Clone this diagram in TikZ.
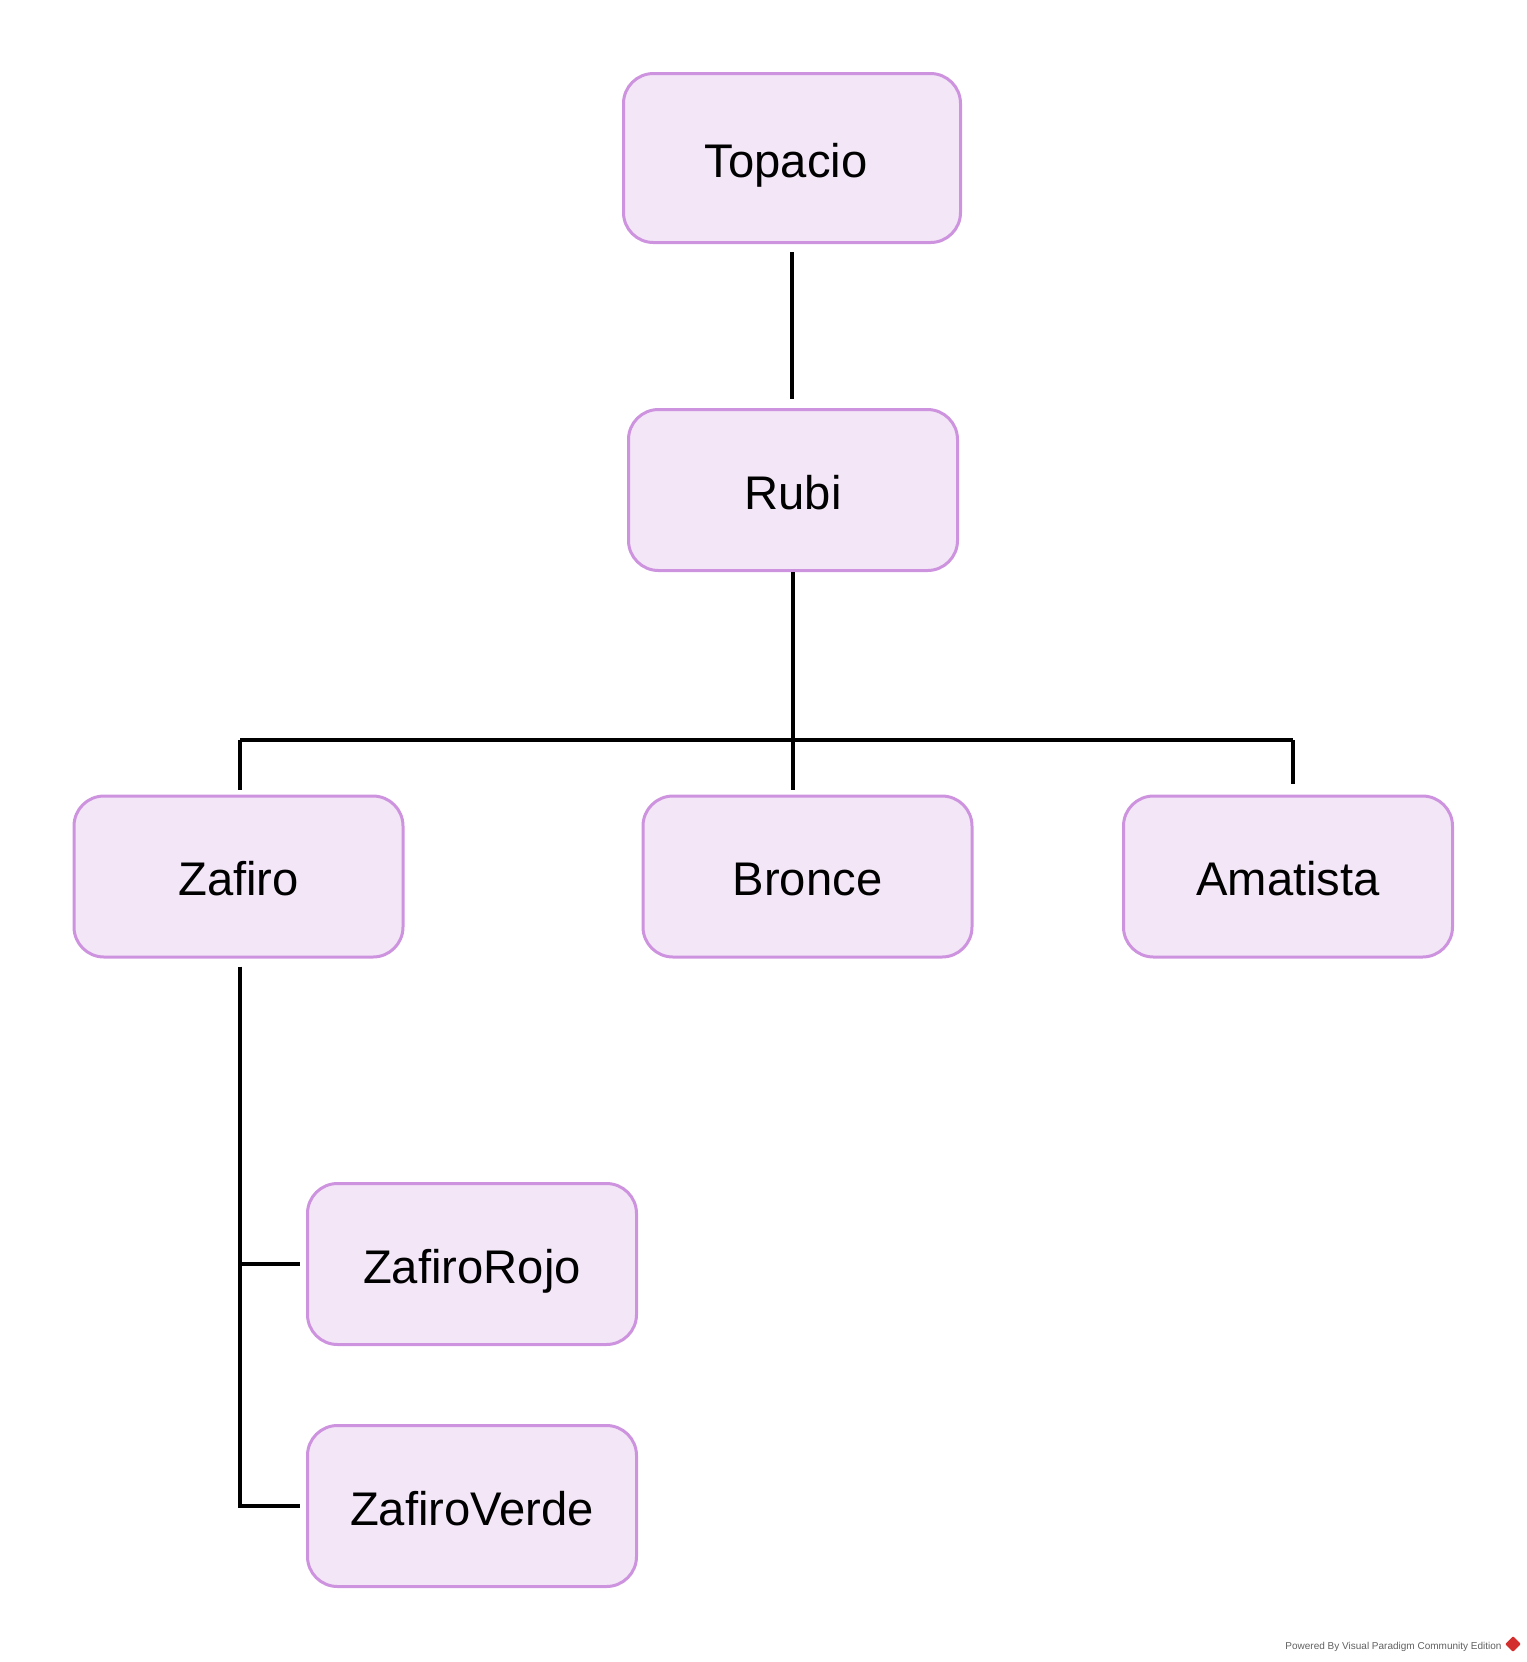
\documentclass[tikz,border=0pt]{standalone}
\usepackage{fontspec}
\setmainfont{Liberation Sans}
\definecolor{gemline}{HTML}{CE93DF}
\definecolor{gemfill}{HTML}{F3E6F7}
\definecolor{creditgray}{HTML}{606060}
\definecolor{vpred}{HTML}{D32F2F}
\begin{document}
\begin{tikzpicture}
  [x=0.5pt,y=-0.5pt,
   every node/.style={draw=gemline,fill=gemfill,line width=1.5pt,rounded corners=15pt,
     minimum width=164.5pt,minimum height=80.5pt,inner sep=0pt,text height=19pt,text depth=0pt,
     font=\fontsize{23.6}{28}\selectfont},
   conn/.style={line width=1.75pt,black}]
  \useasboundingbox (0,0) rectangle (1527,1662);
  \node (topacio) at (792,158) [minimum width=168.5pt,minimum height=84.5pt] {Topacio\kern6pt\null};
  \node (rubi) at (793,490) {Rubi};
  \node (zafiro) at (238.5,876.5) {Zafiro};
  \node (bronce) at (807.5,876.5) {Bronce};
  \node (amatista) at (1288,876.5) {Amatista};
  \node (rojo) at (472,1264) {ZafiroRojo};
  \node (verde) at (472,1506) {ZafiroVerde};
  \coordinate (busL) at (240,740);
  \coordinate (busR) at (1293,740);

  \draw[conn,shorten <=4pt,shorten >=4.5pt] (topacio.south) -- (topacio.south |- rubi.north);
  \draw[conn,shorten >=2.5pt] (rubi.south) -- (rubi.south |- bronce.north);
  \draw[conn] (busL) -- (busR);
  \draw[conn,shorten >=2.5pt] (busL) -- (busL |- zafiro.north);
  \draw[conn,shorten >=5.5pt] (busR) -- (busR |- amatista.north);
  \draw[conn,shorten <=4pt,shorten >=3pt] (busL |- zafiro.south) -- (busL |- verde.west) -- (verde.west);
  \draw[conn,shorten >=3pt] (busL |- rojo.west) -- (rojo.west);

  \node[draw=none,fill=none,minimum width=0pt,minimum height=0pt,text height=,text depth=,anchor=base east,
    text=creditgray,font=\fontsize{5}{6}\selectfont] (credit) at (1503,1649)
    {Powered By Visual Paradigm Community Edition};
  \node[draw=none,fill=vpred,rounded corners=0.5pt,minimum width=5.5pt,minimum height=5.5pt,
    text height=,text depth=,rotate=45] (logo) at (1513,1644) {};
\end{tikzpicture}
\end{document}
